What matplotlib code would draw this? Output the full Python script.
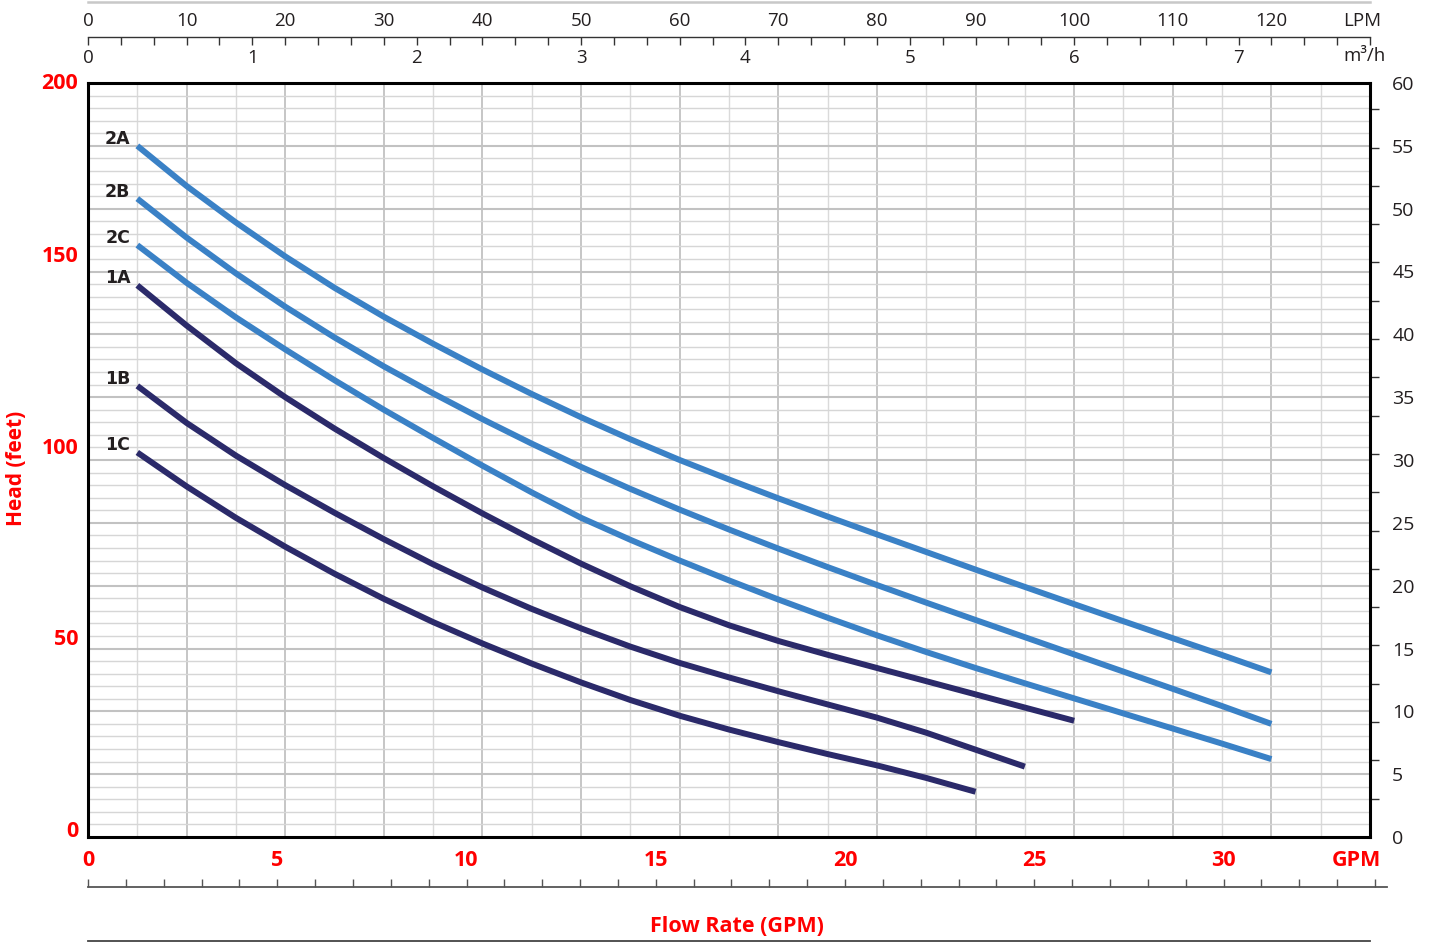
"""Pump curves: head vs flow rate with LPM, m3/h, GPM and feet scales."""
import numpy as np
import matplotlib
matplotlib.use('Agg')
from matplotlib import pyplot as plt
from matplotlib.lines import Line2D

plt.rcParams['font.family'] = ['Open Sans', 'DejaVu Sans']

# flow in LPM, head in metres
FLOW_LPM = [5, 10, 15, 20, 25, 30, 35, 40, 45, 50, 55, 60,
            65, 70, 75, 80, 85, 90, 95, 100, 105, 110, 115, 120]
HEAD_2A = [55.0, 51.8, 48.9, 46.2, 43.7, 41.4, 39.25, 37.2, 35.25, 33.4, 31.65, 30.0,
           28.45, 26.95, 25.5, 24.08, 22.68, 21.28, 19.9, 18.53, 17.17, 15.82, 14.48, 13.1]
HEAD_2B = [50.8, 47.7, 44.85, 42.2, 39.75, 37.45, 35.3, 33.25, 31.3, 29.45, 27.7, 26.05,
           24.47, 22.95, 21.48, 20.05, 18.65, 17.27, 15.9, 14.53, 13.16, 11.79, 10.42, 9.0]
HEAD_2C = [47.1, 44.1, 41.35, 38.8, 36.35, 34.0, 31.75, 29.55, 27.42, 25.4, 23.65, 22.0,
           20.42, 18.9, 17.45, 16.05, 14.72, 13.45, 12.23, 11.03, 9.83, 8.63, 7.43, 6.2]
HEAD_1A = [43.9, 40.7, 37.7, 35.0, 32.5, 30.15, 27.9, 25.75, 23.7, 21.75, 19.95, 18.3,
           16.85, 15.6, 14.5, 13.45, 12.4, 11.35, 10.3, 9.25]
HEAD_1B = [35.9, 32.95, 30.35, 28.0, 25.8, 23.7, 21.7, 19.85, 18.15, 16.6, 15.15, 13.85,
           12.7, 11.6, 10.55, 9.5, 8.3, 6.95, 5.6]
HEAD_1C = [30.6, 27.9, 25.4, 23.1, 20.95, 18.95, 17.1, 15.4, 13.8, 12.3, 10.9, 9.65,
           8.55, 7.55, 6.6, 5.7, 4.7, 3.6]

CURVES = [('2A', HEAD_2A), ('2B', HEAD_2B), ('2C', HEAD_2C),
          ('1A', HEAD_1A), ('1B', HEAD_1B), ('1C', HEAD_1C)]

LPM_LABELS = [0, 10, 20, 30, 40, 50, 60, 70, 80, 90, 100, 110, 120]
M3H_LABELS = [0, 1, 2, 3, 4, 5, 6, 7]
GPM_LABELS = [0, 5, 10, 15, 20, 25, 30]
FEET_LABELS = [0, 50, 100, 150, 200]
METRE_LABELS = [0, 5, 10, 15, 20, 25, 30, 35, 40, 45, 50, 55, 60]

FT_PER_M = 3.28084
LPM_PER_M3H = 1000 / 60
LPM_PER_IGPM = 4.54609

RED = '#ff0000'
INK = '#231f20'
BLUE = '#3a81c6'
NAVY = '#2b2a6a'
W, H = 1434, 942


def px_box(left, top, right, bottom):
    """Axes rectangle from pixel edges (origin top-left)."""
    return [left / W, 1 - bottom / H, (right - left) / W, (bottom - top) / H]


fig = plt.figure(figsize=(W / 100, H / 100), dpi=100)

# ---- main chart (x in LPM, y in metres)
ax = fig.add_axes(px_box(88, 83, 1370, 837))
ax_ft = ax.twinx()          # feet scale, labels only on the left
ax.set_xlim(0, 130)
ax.set_ylim(0, 60)

vgrid = np.arange(5, 130, 5)
hgrid = np.arange(1, 60)
ax.vlines(vgrid[vgrid % 10 != 0], 0, 60, colors='#dadada', lw=1.0, zorder=1)
ax.vlines(vgrid[vgrid % 10 == 0], 0, 60, colors='#c6c6c6', lw=1.4, zorder=1)
ax.hlines(hgrid[hgrid % 5 != 0], 0, 130, colors='#d6d6d6', lw=1.0, zorder=1)
ax.hlines(hgrid[hgrid % 5 == 0], 0, 130, colors='#c2c2c2', lw=1.5, zorder=1)

for name, head in CURVES:
    color = BLUE if name.startswith('2') else NAVY
    flow = FLOW_LPM[:len(head)]
    ax.plot(flow, head, color=color, lw=4.3, solid_capstyle='butt',
            solid_joinstyle='round', zorder=3)
    ax.annotate(name, (flow[0], head[0]), xytext=(-5, 1.5), textcoords='offset points',
                ha='right', va='baseline', fontsize=12.5, fontweight='bold',
                color=INK, family=['Liberation Sans Narrow', 'DejaVu Sans'])

for side in ax.spines.values():
    side.set_linewidth(2.2)
    side.set_color('black')

# imperial gallon ticks along the top edge
ax.xaxis.set_ticks_position('top')
ax.set_xticks(np.arange(0, 130, LPM_PER_IGPM))
ax.tick_params(axis='x', direction='out', length=5, width=1, color='#333333',
               labeltop=False, labelbottom=False)

# metres on the right, ticks every 10 ft
ax.yaxis.set_ticks_position('right')
ax.yaxis.set_label_position('right')
ax.set_yticks(METRE_LABELS)
ax.set_yticklabels([str(v) for v in METRE_LABELS])
ax.set_yticks(np.arange(10, 200, 10) / FT_PER_M, minor=True)
ax.tick_params(axis='y', which='major', length=0, pad=16, labelsize=14,
               labelcolor=INK, labelleft=False, labelright=True)
ax.tick_params(axis='y', which='minor', direction='out', length=6.5, width=1,
               color='#333333', left=False, right=True)

# feet on the left
ax_ft.set_ylim(0, 60 * FT_PER_M)
ax_ft.yaxis.set_ticks_position('left')
ft_pos = np.minimum(FEET_LABELS, 60 * FT_PER_M)
ax_ft.set_yticks(ft_pos, [str(v) for v in FEET_LABELS])
ax_ft.tick_params(axis='y', length=0, pad=7, labelsize=15.5, labelcolor=RED,
                  labelleft=True, labelright=False)
for lab in ax_ft.get_yticklabels():
    lab.set_fontweight('bold')
    lab.set_va('baseline')
ax_ft.get_yticklabels()[-1].set_va('center')
for side in ax_ft.spines.values():
    side.set_visible(False)
ax_ft.set_xticks([])

fig.text(17 / W, 1 - 468 / H, 'Head (feet)', rotation=90, ha='center', va='center',
         color=RED, fontsize=15, fontweight='bold')

# ---- top scales: LPM labels and m3/h axis
ax_top = fig.add_axes(px_box(88, 2, 1370, 37))
ax_top.set_xlim(0, 130)
ax_top.set_ylim(0, 1)
ax_top.patch.set_visible(False)
ax_top.spines['left'].set_visible(False)
ax_top.spines['right'].set_visible(False)
ax_top.spines['top'].set_color('#c8c8c8')
ax_top.spines['top'].set_linewidth(1.8)
ax_top.spines['bottom'].set_color('#333333')
ax_top.spines['bottom'].set_linewidth(1.0)
ax_top.set_yticks([])
ax_top.set_xticks(np.array(M3H_LABELS) * LPM_PER_M3H)
ax_top.set_xticklabels([str(v) for v in M3H_LABELS])
ax_top.set_xticks(np.arange(0, 7.81, 0.2) * LPM_PER_M3H, minor=True)
ax_top.tick_params(axis='x', which='both', direction='out', length=5.5, width=1,
                   color='#333333', pad=3, labelsize=13.5, labelcolor=INK)
ax_top.text(129.4, -0.55, 'm³/h', ha='center', va='center', fontsize=13.5, color=INK,
            transform=ax_top.get_xaxis_transform())
for v in LPM_LABELS:
    ax_top.text(v, 0.46, str(v), ha='center', va='center', fontsize=13.5, color=INK,
                transform=ax_top.get_xaxis_transform())
ax_top.text(129.2, 0.46, 'LPM', ha='center', va='center', fontsize=13.5, color=INK,
            transform=ax_top.get_xaxis_transform())

# ---- bottom GPM scale
gpm_max = (1387 - 88) / 37.85
ax_gpm = fig.add_axes(px_box(88, 837, 1387, 887))
ax_gpm.set_xlim(0, gpm_max)
ax_gpm.set_ylim(0, 1)
ax_gpm.patch.set_visible(False)
for s in ('left', 'right', 'top'):
    ax_gpm.spines[s].set_visible(False)
ax_gpm.spines['bottom'].set_color('#555555')
ax_gpm.spines['bottom'].set_linewidth(1.3)
ax_gpm.set_yticks([])
ax_gpm.set_xticks(np.arange(0, int(gpm_max) + 1))
ax_gpm.tick_params(axis='x', direction='in', length=5.5, width=1, color='#555555',
                   labelbottom=False)
for v in GPM_LABELS:
    ax_gpm.text(v, 0.52, str(v), ha='center', va='center', fontsize=15.5,
                fontweight='bold', color=RED, transform=ax_gpm.get_xaxis_transform())
ax_gpm.text(33.5, 0.52, 'GPM', ha='center', va='center', fontsize=15.5,
            fontweight='bold', color=RED, transform=ax_gpm.get_xaxis_transform())

fig.text(737 / W, 1 - 926 / H, 'Flow Rate (GPM)', ha='center', va='center',
         color=RED, fontsize=15.5, fontweight='bold')
fig.add_artist(Line2D([88 / W, 1370 / W], [1 - 940.5 / H] * 2, color='#444444', lw=1.3))

fig.savefig('out.png', dpi=100)
